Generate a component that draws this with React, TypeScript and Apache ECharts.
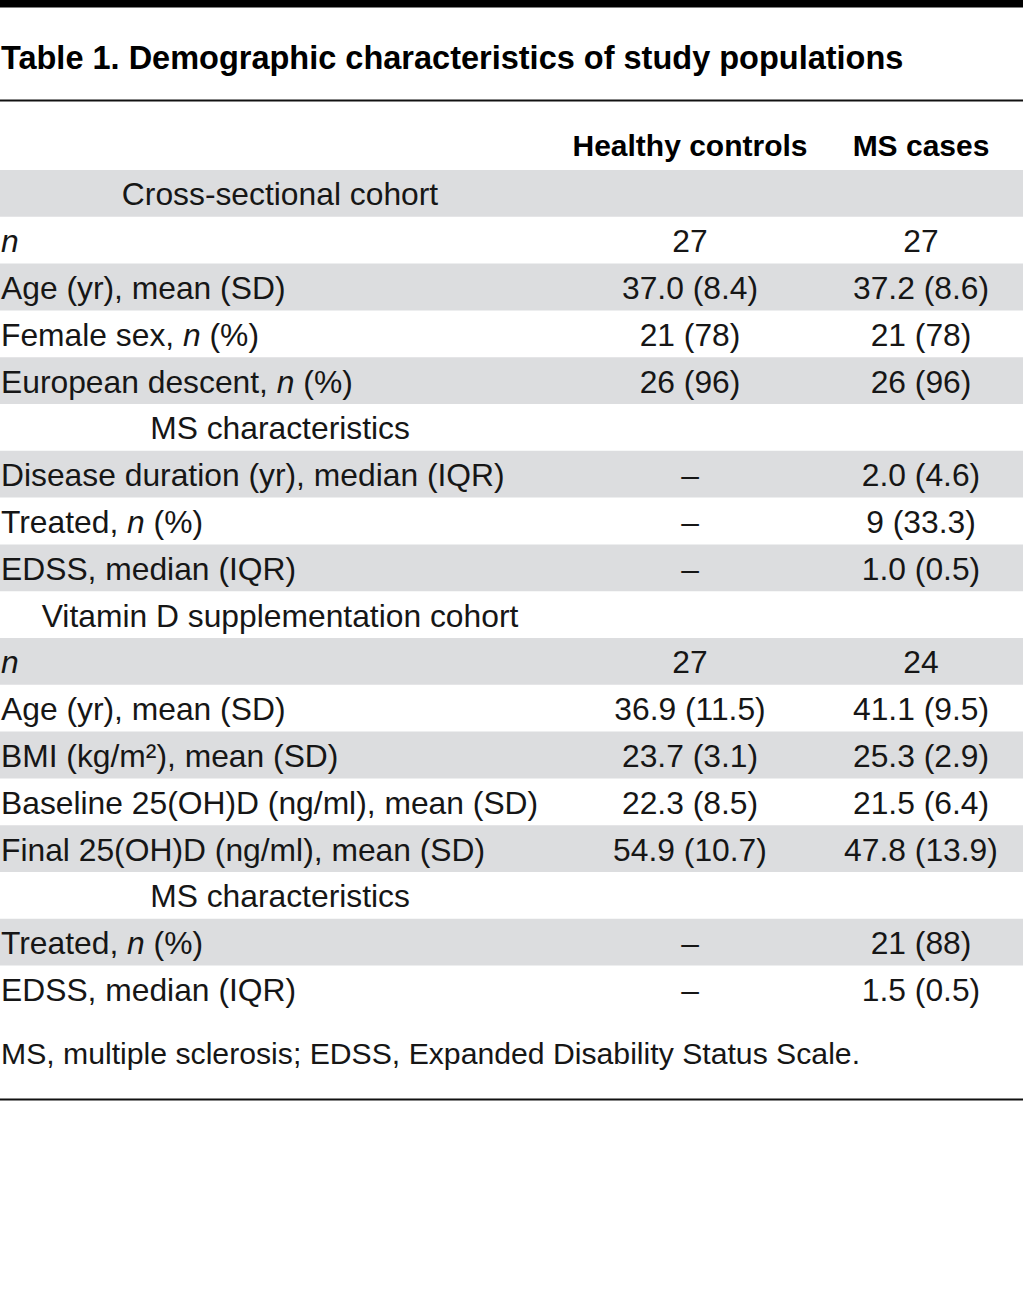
import React, { useEffect, useRef } from "react";
import * as echarts from "echarts";

const titleText = "Table 1. Demographic characteristics of study populations";
const columnHeaders = ["Healthy controls", "MS cases"];
const rowLabels = [
  "Cross-sectional cohort",
  "{i|n}",
  "Age (yr), mean (SD)",
  "Female sex, {i|n} (%)",
  "European descent, {i|n} (%)",
  "MS characteristics",
  "Disease duration (yr), median (IQR)",
  "Treated, {i|n} (%)",
  "EDSS, median (IQR)",
  "Vitamin D supplementation cohort",
  "{i|n}",
  "Age (yr), mean (SD)",
  "BMI (kg/m\u00B2), mean (SD)",
  "Baseline 25(OH)D (ng/ml), mean (SD)",
  "Final 25(OH)D (ng/ml), mean (SD)",
  "MS characteristics",
  "Treated, {i|n} (%)",
  "EDSS, median (IQR)",
];
const sectionRows = [0, 5, 9, 15];
const healthyValues = [
  "", "27", "37.0 (8.4)", "21 (78)", "26 (96)",
  "", "\u2013", "\u2013", "\u2013",
  "", "27", "36.9 (11.5)", "23.7 (3.1)", "22.3 (8.5)", "54.9 (10.7)",
  "", "\u2013", "\u2013",
];
const msValues = [
  "", "27", "37.2 (8.6)", "21 (78)", "26 (96)",
  "", "2.0 (4.6)", "9 (33.3)", "1.0 (0.5)",
  "", "24", "41.1 (9.5)", "25.3 (2.9)", "21.5 (6.4)", "47.8 (13.9)",
  "", "21 (88)", "1.5 (0.5)",
];
const footnote = "MS, multiple sclerosis; EDSS, Expanded Disability Status Scale.";

const W = 1023;
const H = 1314;
const FONT = "'Liberation Sans', Arial, sans-serif";
const FS = 31.8;
const TEXT = "#161616";
const GRAY = "#dcdddf";
const ROW0 = 170;
const ROWH = 46.8;
const COL1 = 690;
const COL2 = 921;
const SECTION_CX = 280;

function buildGraphic() {
  const els: any[] = [];
  els.push({ type: "rect", shape: { x: 0, y: 0, width: W, height: 7.5 }, style: { fill: "#000" } });
  els.push({
    type: "text", x: 1, y: 58,
    style: { text: titleText, fontFamily: FONT, fontSize: 32.5, fontWeight: "bold", fill: "#000", align: "left", verticalAlign: "middle" },
  });
  els.push({ type: "rect", shape: { x: 0, y: 99.5, width: W, height: 2 }, style: { fill: "#111" } });
  columnHeaders.forEach((h, i) => {
    els.push({
      type: "text", x: i === 0 ? COL1 : COL2, y: 145,
      style: { text: h, fontFamily: FONT, fontSize: 30, fontWeight: "bold", fill: "#000", align: "center", verticalAlign: "middle" },
    });
  });
  rowLabels.forEach((label, r) => {
    const top = ROW0 + r * ROWH;
    const cy = top + ROWH / 2 + 1;
    if (r % 2 === 0) {
      els.push({ type: "rect", shape: { x: 0, y: top, width: W, height: ROWH }, style: { fill: GRAY }, z: 0 });
    }
    const isSection = sectionRows.indexOf(r) >= 0;
    els.push({
      type: "text", x: isSection ? SECTION_CX : 1, y: cy, z: 2,
      style: {
        text: label, fontFamily: FONT, fontSize: FS, fill: TEXT,
        align: isSection ? "center" : "left", verticalAlign: "middle",
        rich: { i: { fontStyle: "italic", fontFamily: FONT, fontSize: FS, fill: TEXT } },
      },
    });
    [healthyValues[r], msValues[r]].forEach((v, c) => {
      if (!v) return;
      els.push({
        type: "text", x: c === 0 ? COL1 : COL2, y: cy, z: 2,
        style: { text: v, fontFamily: FONT, fontSize: FS, fill: TEXT, align: "center", verticalAlign: "middle" },
      });
    });
  });
  els.push({
    type: "text", x: 1, y: 1053,
    style: { text: footnote, fontFamily: FONT, fontSize: 30.2, fill: TEXT, align: "left", verticalAlign: "middle" },
  });
  els.push({ type: "rect", shape: { x: 0, y: 1098.5, width: W, height: 2 }, style: { fill: "#111" } });
  return els;
}

export default function App() {
  const ref = useRef<HTMLDivElement>(null);
  useEffect(() => {
    if (!ref.current) return;
    const chart = echarts.init(ref.current, undefined, { renderer: "svg", width: W, height: H });
    chart.setOption({
      animation: false,
      backgroundColor: "#ffffff",
      graphic: buildGraphic(),
    });
    return () => chart.dispose();
  }, []);
  return (
    <div
      ref={ref}
      style={{ position: "absolute", left: 0, top: 0, width: W, height: H, background: "#fff" }}
    />
  );
}
